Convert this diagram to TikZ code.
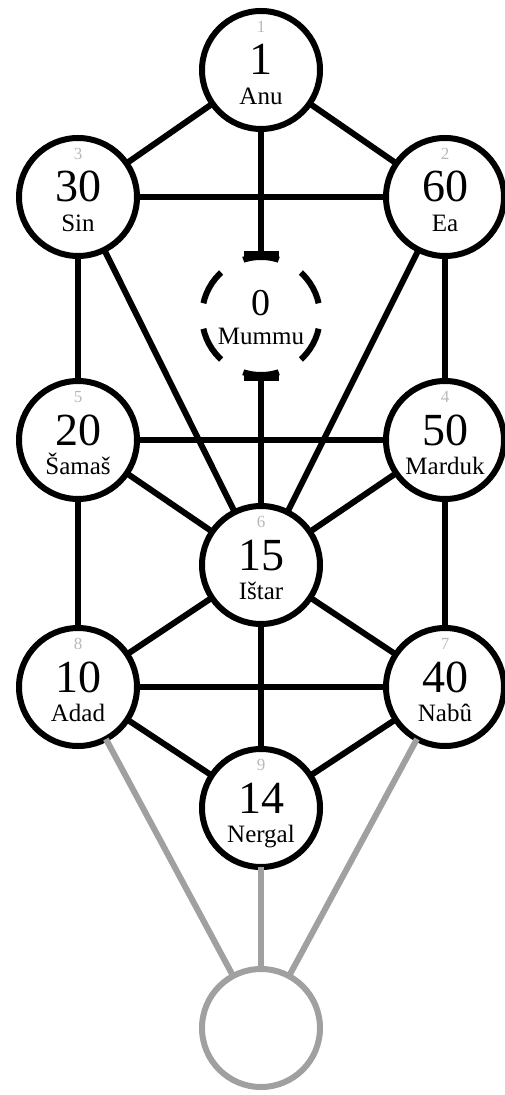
\documentclass[tikz,border=0pt]{standalone}
\usepackage{fontspec}
\setmainfont{Liberation Serif}
\usetikzlibrary{arrows.meta}
\definecolor{idxgray}{RGB}{185,185,185}
\definecolor{rootgray}{RGB}{160,160,160}

\begin{document}
\begin{tikzpicture}[x=0.5pt, y=-0.5pt,
  sph/.style={circle, draw=black, line width=3pt, minimum size=59pt,
              inner sep=0pt, outer sep=0pt, fill=white},
  idx/.style={yshift=21.5pt, inner sep=0.5pt, text=idxgray, text height=5.5pt,
              text depth=0pt, font=\fontsize{8.5}{9}\selectfont},
  num/.style={yshift=5.5pt, inner sep=0.5pt, text height=16pt, text depth=0pt,
              font=\fontsize{23}{24}\selectfont},
  nm/.style={yshift=-14.5pt, inner sep=0.5pt, text height=8pt, text depth=2.5pt,
             font=\fontsize{12.5}{13}\selectfont},
  mnum/.style={yshift=6.75pt, inner sep=0.5pt, text height=13.5pt, text depth=0pt,
               font=\fontsize{19}{20}\selectfont},
  mnm/.style={yshift=-11.5pt, inner sep=0.5pt, text height=8pt, text depth=2.5pt,
              font=\fontsize{12.5}{13}\selectfont},
  link/.style={line width=3pt, black},
  rootlink/.style={line width=3pt, rootgray}
]
\useasboundingbox (0,0) rectangle (504,1095);

% the ten circles
\node[sph, label={[idx]center:1}, label={[num]center:1}, label={[nm]center:Anu}] (anu) at (261,70) {};
\node[sph, label={[idx]center:3}, label={[num]center:30}, label={[nm]center:Sin}] (sin) at (78,197) {};
\node[sph, label={[idx]center:2}, label={[num]center:60}, label={[nm]center:Ea}] (ea) at (445,197) {};
\node[sph, dash pattern=on 18.02pt off 12.87pt, dash phase=24.46pt,
      label={[mnum]center:0}, label={[mnm]center:Mummu}] (mummu) at (261,316) {};
\node[sph, label={[idx]center:5}, label={[num]center:20}, label={[nm]center:Šamaš}] (samas) at (78,440) {};
\node[sph, label={[idx]center:4}, label={[num]center:50}, label={[nm]center:Marduk}] (marduk) at (445,440) {};
\node[sph, label={[idx]center:6}, label={[num]center:15}, label={[nm]center:Ištar}] (istar) at (261,565) {};
\node[sph, label={[idx]center:8}, label={[num]center:10}, label={[nm]center:Adad}] (adad) at (78,687) {};
\node[sph, label={[idx]center:7}, label={[num]center:40}, label={[nm]center:Nabû}] (nabu) at (445,687) {};
\node[sph, label={[idx]center:9}, label={[num]center:14}, label={[nm]center:Nergal}] (nergal) at (261,808) {};
\node[sph, draw=rootgray] (root) at (261,1028) {};

% paths
\draw[link] (anu) -- (sin);
\draw[link] (anu) -- (ea);
\draw[link] (sin) -- (ea);
\draw[link] (sin) -- (samas);
\draw[link] (sin) -- (istar);
\draw[link] (ea) -- (marduk);
\draw[link] (ea) -- (istar);
\draw[link] (samas) -- (marduk);
\draw[link] (samas) -- (istar);
\draw[link] (marduk) -- (istar);
\draw[link] (samas) -- (adad);
\draw[link] (marduk) -- (nabu);
\draw[link] (istar) -- (adad);
\draw[link] (istar) -- (nabu);
\draw[link] (istar) -- (nergal);
\draw[link] (adad) -- (nabu);
\draw[link] (adad) -- (nergal);
\draw[link] (nabu) -- (nergal);

\draw[link, -{Bar[width=17.5pt]}] (anu) -- (mummu);
\draw[link, -{Bar[width=17.5pt]}] (istar) -- (mummu);

\draw[rootlink] (adad) -- (root);
\draw[rootlink] (nergal) -- (root);
\draw[rootlink] (nabu) -- (root);
\end{tikzpicture}
\end{document}
